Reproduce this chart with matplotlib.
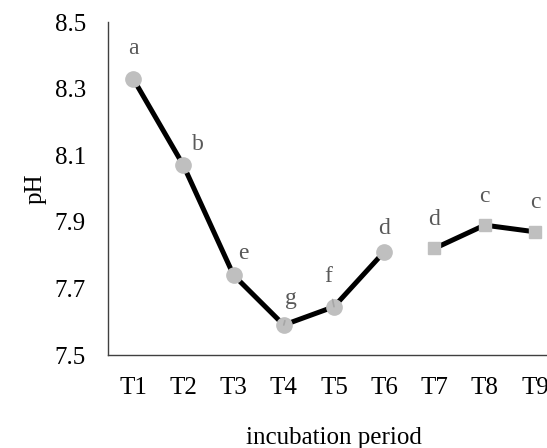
import matplotlib.pyplot as plt

plt.rcParams["font.family"] = ["Liberation Serif", "DejaVu Serif"]

PERIODS = ["T1", "T2", "T3", "T4", "T5", "T6", "T7", "T8", "T9"]
PH_FIRST = [8.33, 8.07, 7.74, 7.59, 7.645, 7.81]
PH_SECOND = [7.82, 7.89, 7.87]
LETTERS = ["a", "b", "e", "g", "f", "d", "d", "c", "c"]
Y_TICKS = [7.5, 7.7, 7.9, 8.1, 8.3, 8.5]

# label offsets in pixels from each point
OFFSETS = [(0, 30), (15, 21), (10, 22), (7, 27), (-6, 30),
           (0, 23), (0, 29), (0, 29), (0, 29)]
LEADERS = {3, 4}


def main():
    fig = plt.figure(figsize=(5.47, 4.48), dpi=100)
    ax = fig.add_axes([108 / 547, 93 / 448, 452 / 547, 333 / 448])

    x_first = list(range(1, len(PH_FIRST) + 1))
    x_second = list(range(len(PH_FIRST) + 1, len(PERIODS) + 1))

    ax.plot(x_first, PH_FIRST, color="black", lw=3.6, marker="o",
            ms=11, mfc="#bfbfbf", mec="#bfbfbf", zorder=3)
    ax.plot(x_second, PH_SECOND, color="black", lw=3.6, marker="s",
            ms=8, mfc="#bfbfbf", mec="#bfbfbf", zorder=3)

    values = PH_FIRST + PH_SECOND
    for i, (letter, val) in enumerate(zip(LETTERS, values)):
        dx, dy = OFFSETS[i]
        arrow = None
        if i in LEADERS:
            arrow = dict(arrowstyle="-", color="#a6a6a6", lw=1.2,
                         shrinkA=7, shrinkB=0)
        ax.annotate(letter, (i + 1, val), xytext=(dx, dy),
                    textcoords="offset pixels", ha="center", va="center",
                    fontsize=17, color="#595959", arrowprops=arrow,
                    zorder=4)

    ax.set_xlim(0.5, 9.5)
    ax.set_ylim(7.5, 8.5)
    ax.set_xticks(range(1, len(PERIODS) + 1))
    ax.set_xticklabels(PERIODS)
    ax.set_yticks(Y_TICKS)
    ax.tick_params(length=0, labelsize=18)
    ax.tick_params(axis="x", pad=15.5)
    ax.tick_params(axis="y", pad=16)

    for side in ["top", "right"]:
        ax.spines[side].set_visible(False)
    for side in ["left", "bottom"]:
        ax.spines[side].set_color("#404040")
        ax.spines[side].set_linewidth(1)

    ax.set_xlabel("incubation period", fontsize=18, labelpad=20.5)
    ax.set_ylabel("pH", fontsize=18, labelpad=6)

    fig.savefig("out.png", dpi=100)
    plt.close(fig)


if __name__ == "__main__":
    main()
